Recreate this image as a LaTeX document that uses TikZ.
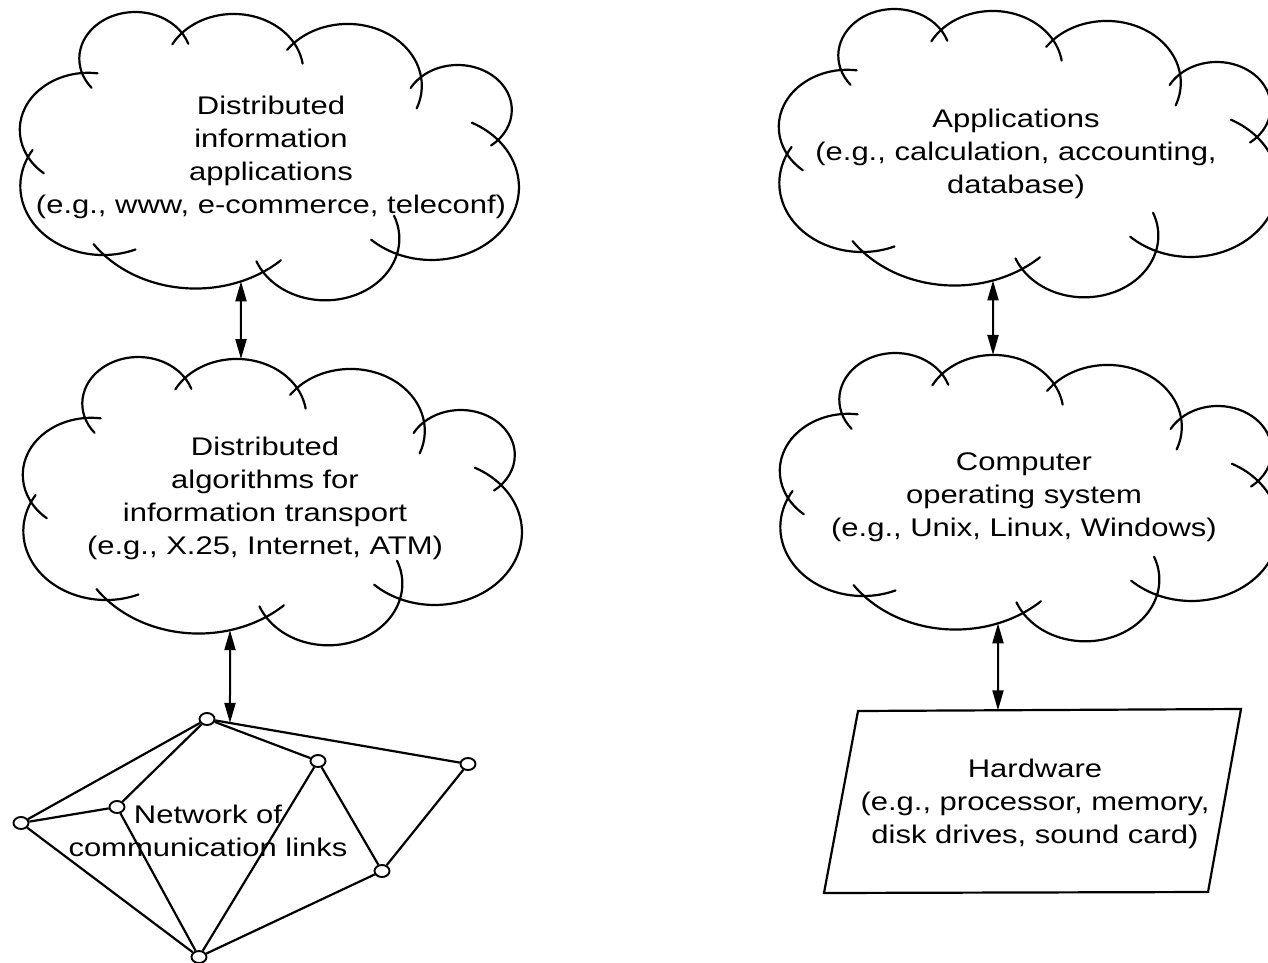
\documentclass[tikz,border=0pt]{standalone}
\usepackage{fontspec}
\newfontfamily\lab[FakeStretch=1.215]{Liberation Sans}
\usetikzlibrary{arrows.meta,shapes.geometric,intersections,calc}

\newcommand\topstrut{\rule{0pt}{20pt}}

% One bulge of a cloud outline: an arc through three points (start, middle, end),
% run on past both ends (#7 before, #8 after) so that neighbouring bulges cross.
% Points are given in picture units; the arc is drawn in a frame stretched by 1.2 in x.
\newcommand\bump[9]{%
  \pgfmathsetmacro\bmAx{#1/120}\pgfmathsetmacro\bmAy{#2/100}%
  \pgfmathsetmacro\bmBx{#3/120}\pgfmathsetmacro\bmBy{#4/100}%
  \pgfmathsetmacro\bmCx{#5/120}\pgfmathsetmacro\bmCy{#6/100}%
  \pgfmathsetmacro\bmSa{\bmAx*\bmAx+\bmAy*\bmAy}%
  \pgfmathsetmacro\bmSb{\bmBx*\bmBx+\bmBy*\bmBy}%
  \pgfmathsetmacro\bmSc{\bmCx*\bmCx+\bmCy*\bmCy}%
  \pgfmathsetmacro\bmD{2*(\bmAx*(\bmBy-\bmCy)+\bmBx*(\bmCy-\bmAy)+\bmCx*(\bmAy-\bmBy))}%
  \pgfmathsetmacro\bmUx{(\bmSa*(\bmBy-\bmCy)+\bmSb*(\bmCy-\bmAy)+\bmSc*(\bmAy-\bmBy))/\bmD}%
  \pgfmathsetmacro\bmUy{(\bmSa*(\bmCx-\bmBx)+\bmSb*(\bmAx-\bmCx)+\bmSc*(\bmBx-\bmAx))/\bmD}%
  \pgfmathsetmacro\bmR{veclen(\bmAx-\bmUx,\bmAy-\bmUy)}%
  \pgfmathsetmacro\bmTa{atan2(\bmAy-\bmUy,\bmAx-\bmUx)}%
  \pgfmathsetmacro\bmTc{atan2(\bmCy-\bmUy,\bmCx-\bmUx)}%
  \pgfmathsetmacro\bmSw{mod(\bmTc-\bmTa+720,360)}%
  \pgfmathsetmacro\bmSt{\bmTa-#7*0.572958/\bmR}%
  \pgfmathsetmacro\bmEn{\bmTa+\bmSw+#8*0.572958/\bmR}%
  \pgfmathsetmacro\bmRr{100*\bmR}%
  \pgfmathsetmacro\bmCu{100*\bmUx}\pgfmathsetmacro\bmCv{100*\bmUy}%
  \draw[cloudline,#9] (\bmCu,\bmCv) ++(\bmSt:\bmRr)
    arc[start angle=\bmSt, end angle=\bmEn, radius=\bmRr];%
}

% A whole cloud: nine bulges, shifted by #1; #2 names its top and bottom bulges.
\newcommand\cloud[2]{%
  \begin{scope}[shift={#1}, x=1.2pt]
    \bump{28}{157}{20}{125}{82}{73}{21}{13}{}
    \bump{82}{73}{135}{12}{182}{33}{17}{12}{}
    \bump{182}{33}{236}{14}{294}{43}{14}{22}{name path global=#2top}
    \bump{294}{43}{350}{24}{421}{77}{9}{32}{}
    \bump{421}{77}{458}{65}{498}{140}{14}{8}{}
    \bump{498}{140}{507}{224}{397}{254}{28}{26}{}
    \bump{397}{254}{333}{300}{263}{272}{39}{12}{}
    \bump{263}{272}{217}{287}{104}{255}{19}{14}{name path global=#2bot}
    \bump{104}{255}{22}{200}{28}{157}{27}{8}{}
  \end{scope}%
}

\tikzset{
  cloudline/.style={line width=2.2pt, line cap=round},
  txt/.style={font=\lab\fontsize{25.5pt}{33pt}\selectfont, align=center,
    inner sep=0pt, anchor=north},
  netnode/.style={ellipse, draw, fill=white, line width=1.9pt,
    minimum width=15pt, minimum height=12pt, inner sep=0pt},
  link/.style={line width=2.2pt},
  boxline/.style={line width=2.2pt, line join=miter},
  dbl/.style={line width=2pt,
    {Triangle[length=20pt,width=11pt]}-{Triangle[length=20pt,width=11pt]}},
}

\begin{document}
\begin{tikzpicture}[x=1pt,y=-1pt]
\useasboundingbox (0,0) rectangle (1268,963);
\clip (0,0) rectangle (1268,963);
\fill[white] (0,0) rectangle (1268,963);

% clouds
\cloud{(0pt,0pt)}{c1}
\cloud{(3pt,-345pt)}{c2}
\cloud{(759pt,3pt)}{c3}
\cloud{(760pt,-341pt)}{c4}

% cloud labels
\node[txt] (t1) at (271,94) {\topstrut Distributed\\information\\applications\\(e.g., www, e-commerce, teleconf)};
\node[txt] (t2) at (265,435) {\topstrut Distributed\\algorithms for\\information transport\\(e.g., X.25, Internet, ATM)};
\node[txt] (t3) at (1016,107) {\topstrut Applications\\(e.g., calculation, accounting,\\database)};
\node[txt] (t4) at (1024,450) {\topstrut Computer\\operating system\\(e.g., Unix, Linux, Windows)};

% network of links
\node[netnode] (A) at (207,719) {};
\node[netnode] (B) at (318,761) {};
\node[netnode] (C) at (468,764) {};
\node[netnode] (D) at (117,807) {};
\node[netnode] (E) at (21,823) {};
\node[netnode] (F) at (382,871) {};
\node[netnode] (G) at (199,957) {};
\draw[link] (A) -- (E);
\draw[link] (A) -- (D);
\draw[link] (A) -- (B);
\draw[link] (A) -- (C);
\draw[link] (E) -- (D);
\draw[link] (E) -- (G);
\draw[link] (D) -- (G);
\draw[link] (B) -- (G);
\draw[link] (B) -- (F);
\draw[link] (C) -- (F);
\draw[link] (F) -- (G);
\node[txt] (t6) at (208,803) {\topstrut Network of\\communication links};

% hardware box
\coordinate (hwtl) at (858,711);
\coordinate (hwtr) at (1241,709);
\coordinate (hwbr) at (1208,892);
\coordinate (hwbl) at (824,893);
\draw[boxline] (hwtl) -- (hwtr) -- (hwbr) -- (hwbl) -- cycle;
\node[txt] (t5) at (1035,757) {\topstrut Hardware\\(e.g., processor, memory,\\disk drives, sound card)};

% arrow end points on the outlines
\path[name path=v1] (241,200) -- (241,420);
\path[name path=v2] (230,520) -- (230,700);
\path[name path=v3] (993,200) -- (993,420);
\path[name path=v4] (998,540) -- (998,700);
\path[name intersections={of=c1bot and v1, by={c1s}}];
\path[name intersections={of=c2top and v1, by={c2n}}];
\path[name intersections={of=c2bot and v2, by={c2s}}];
\path[name intersections={of=c3bot and v3, by={c3s}}];
\path[name intersections={of=c4top and v3, by={c4n}}];
\path[name intersections={of=c4bot and v4, by={c4s}}];
\path (A.center) -- (C.center) coordinate[pos=0.0881] (netin);
\coordinate (hwn) at ($(hwtl)!0.3655!(hwtr)$);

% arrows
\draw[dbl] (c1s) -- (c2n);
\draw[dbl] (c2s) -- (netin);
\draw[dbl] (c3s) -- (c4n);
\draw[dbl] (c4s) -- (hwn);
\end{tikzpicture}
\end{document}
